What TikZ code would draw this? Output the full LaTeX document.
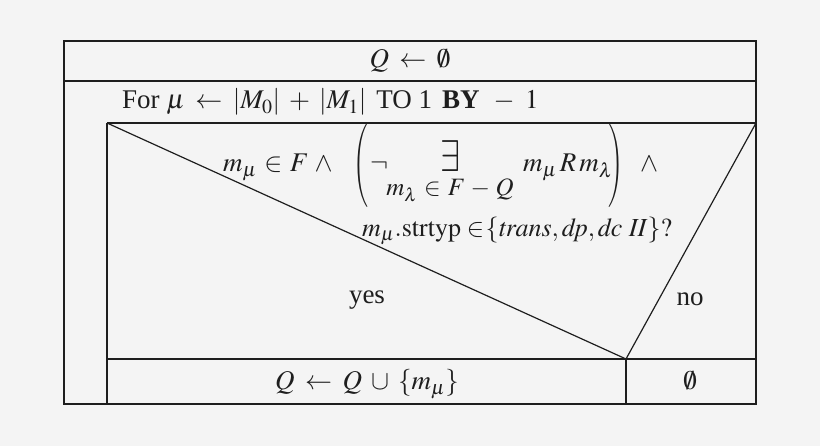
\documentclass[tikz,border=0pt]{standalone}
\usepackage{mathptmx}
\usepackage{fontspec}
\setmainfont{Liberation Serif}
\usepackage{graphicx}
\definecolor{bg}{HTML}{F4F4F4}
\definecolor{ink}{HTML}{1E1E1E}
\thickmuskip=7mu plus 2mu
\medmuskip=6mu plus 2mu
\newcommand\tightmath{\thickmuskip=5mu\relax\medmuskip=4mu\relax}
\begin{document}
\begin{tikzpicture}[x=1pt,y=-1pt,
  txt/.style={inner sep=0pt,text=ink,font=\fontsize{27}{32}\selectfont},
  sub/.style={inner sep=0pt,text=ink,font=\fontsize{25}{30}\selectfont\tightmath},
  thick line/.style={draw=ink,line width=1.8pt},
  thin line/.style={draw=ink,line width=1.2pt}]
\fill[bg] (0,0) rectangle (820,446);
\useasboundingbox (0,0) rectangle (820,446);
% geometry
\coordinate (TL) at (64,41);
\coordinate (BR) at (756,404);
\coordinate (h1l) at (64,81);   \coordinate (h1r) at (756,81);
\coordinate (bTL) at (107,123); \coordinate (bTR) at (756,123);
\coordinate (bBL) at (107,404);
\coordinate (v) at (626,359);
\coordinate (hL) at (107,359);  \coordinate (hR) at (756,359);
\coordinate (vB) at (626,404);
\draw[thick line] (TL) rectangle (BR);
\draw[thick line] (h1l) -- (h1r);
\draw[thin line] (bTL) -- (bTR);
\draw[thin line] (bTL) -- (bBL);
\draw[thin line] (bTL) -- (v);
\draw[thin line] (bTR) -- (v);
\draw[thick line] (hL) -- (hR);
\draw[thick line] (v) -- (vB);
% texts
\node[txt,anchor=base] (init) at (410,68) {$Q\leftarrow\emptyset$};
\node[txt,anchor=base west] (loop) at (122,109) {For $\mu\leftarrow|M_0|+|M_1|$\hspace{10pt}TO 1\hspace{10pt}\textbf{BY}\hspace{14pt}$-\;1$};
% condition, first line
\node[txt,anchor=base west] (c1) at (223,172) {\tightmath$m_\mu \in F \wedge{}$};
\node[txt,anchor=west,inner sep=0pt] (lp) at (353,165) {\resizebox*{15pt}{84pt}{$\Bigg($}};
\node[txt,anchor=base west] (neg) at (370,172) {$\neg$};
\node[txt,anchor=base] (ex) at (450,172) {\resizebox{20pt}{31pt}{$\exists$}};
\node[sub,anchor=base] (exsub) at (450,196) {$m_\lambda \in F-Q$};
\node[txt,anchor=base west] (rel) at (523,172) {$m_\mu\mkern2mu R\mkern2mu m_\lambda$};
\node[txt,anchor=west,inner sep=0pt] (rp) at (608,165) {\resizebox*{15pt}{84pt}{$\Bigg)$}};
\node[txt,anchor=base west] (and) at (640,172) {$\wedge$};
% condition, second line
\node[sub,anchor=base west] (c2) at (362,237) {\fontsize{26}{30}\selectfont$m_\mu.\mathrm{strtyp}\mskip4mu{\in}\mskip1mu\{\mathit{trans}, \mathit{dp}, \mathit{dc}\ \mathit{II}\}?$};
\node[txt,anchor=base] (yes) at (367,304) {yes};
\node[txt,anchor=base] (no) at (690,306) {no};
\node[txt,anchor=base] (then) at (367,390) {$Q\leftarrow Q\cup\{m_\mu\}$};
\node[txt,anchor=base] (else) at (690,390) {$\emptyset$};
\end{tikzpicture}
\end{document}
